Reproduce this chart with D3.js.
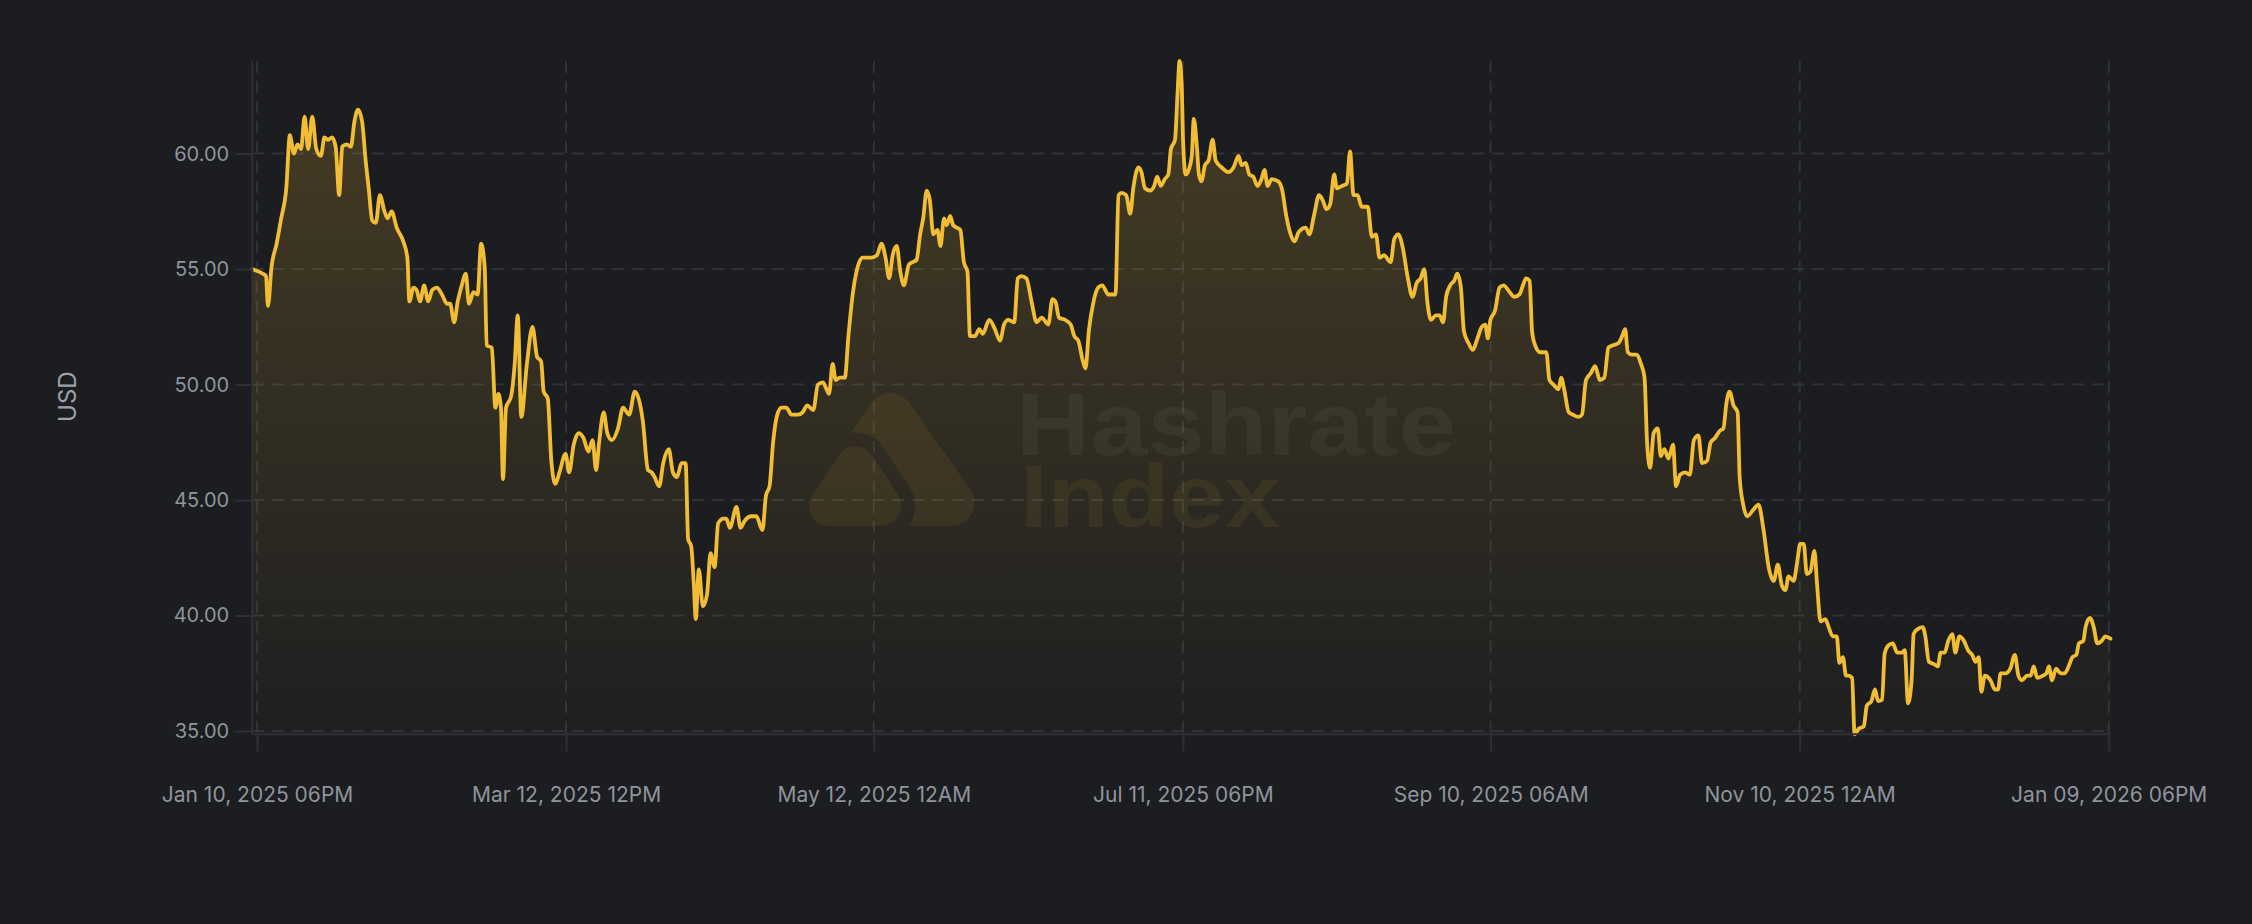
<!DOCTYPE html>
<html>
<head>
<meta charset="utf-8">
<script src="https://cdn.jsdelivr.net/npm/d3@7"></script>
<style>
  html, body { margin: 0; padding: 0; background: #1c1d20; }
  svg { display: block; }
</style>
</head>
<body>
<svg id="chart" width="2252" height="924"></svg>
<script>
// ---------------- DATA ----------------
const startDate = "2025-01-10T00:00:00Z";   // day offsets are counted from here
const dayOffset = [
-0.2,1.9,2.5,2.9,3.6,4.6,5.5,6.5,7.2,8.0,8.7,9.4,10.1,10.8,11.6,12.4,13.3,14.0,14.7,15.5,16.2,16.9,17.5,18.4,19.2,19.9,20.6,21.4,22.1,22.7,
23.4,24.1,24.9,25.8,26.4,27.2,28.2,29.5,30.3,30.7,31.5,32.1,32.8,33.6,34.4,35.2,36.1,37.1,38.1,38.7,39.5,40.2,41.0,41.8,42.4,43.3,44.1,44.8,45.5,45.9,
46.9,47.6,48.2,48.7,49.1,49.7,50.7,51.4,52.0,52.7,53.8,54.9,55.8,56.6,57.1,57.9,58.6,59.4,60.2,61.4,62.1,63.0,64.0,64.9,65.9,66.7,67.4,68.0,68.9,69.6,
70.5,71.7,72.7,73.9,75.0,76.0,76.6,77.6,78.3,78.9,79.8,80.6,81.7,82.5,83.3,84.2,85.0,85.5,86.1,86.6,87.0,87.6,88.4,89.2,89.9,90.7,91.4,92.4,93.0,93.7,
95.0,95.8,96.6,97.9,98.9,100.1,100.8,101.5,102.2,102.9,103.8,104.8,105.8,107.1,108.0,108.9,110.1,111.0,112.0,112.7,113.2,113.9,114.5,115.3,116.3,117.0,117.9,118.6,119.8,121.5,
122.6,123.5,124.3,125.0,125.7,126.5,127.2,127.9,128.9,129.6,130.4,131.1,131.7,132.4,133.0,133.7,134.5,135.1,135.8,136.3,137.0,137.6,138.3,139.0,139.7,140.4,140.9,141.9,142.7,143.4,
144.7,145.8,146.8,147.6,148.4,149.6,150.3,151.0,152.0,153.0,154.0,155.0,156.3,157.1,157.7,158.4,159.6,160.7,161.4,162.2,163.0,163.6,164.3,165.1,166.1,166.9,168.1,169.5,170.1,170.7,
171.6,172.4,173.0,174.0,174.6,175.3,176.3,177.1,177.7,178.4,179.2,179.9,180.4,181.2,181.7,182.1,182.5,182.8,183.3,183.9,184.5,184.9,185.5,185.9,186.4,187.1,187.8,188.6,189.2,190.4,
191.7,192.7,193.7,194.3,195.1,195.8,196.6,197.4,198.2,198.8,199.4,200.2,201.5,202.3,203.0,203.8,204.7,205.5,206.9,207.6,208.6,209.5,210.2,211.0,211.7,212.5,213.0,214.0,215.0,215.6,
216.3,217.1,217.9,219.1,219.9,220.7,221.4,222.3,223.6,224.3,225.1,226.0,226.9,227.9,228.7,229.5,230.2,230.8,231.5,232.5,233.2,233.9,234.5,235.3,236.1,236.7,237.4,238.0,238.9,239.75,
240.5,241.5,242.2,242.7,243.2,244.1,245.0,245.8,247.0,247.9,248.9,249.6,250.2,250.9,251.4,252.0,253.0,254.2,254.8,255.6,256.6,257.1,257.7,258.6,259.4,260.5,261.2,262.0,262.95,263.8,
264.7,265.6,266.4,267.3,268.4,269.1,269.7,270.2,271.0,271.9,272.8,273.5,274.0,274.6,275.3,276.1,276.7,277.4,278.2,279.1,279.7,280.5,281.5,282.4,283.2,284.1,284.8,285.8,286.5,287.4,
288.3,289.0,289.6,290.2,291.0,291.8,292.2,292.9,293.7,294.95,295.9,296.9,297.9,298.9,299.7,300.5,301.2,301.8,302.8,303.5,304.1,304.8,305.4,306.1,306.9,307.4,308.1,309.05,309.7,310.5,
311.3,311.8,312.5,313.1,313.6,314.3,314.8,315.6,316.6,317.2,318.1,318.8,319.4,320.2,320.7,321.4,322.3,323.15,324.1,324.65,325.3,326.0,326.4,327.1,328.2,328.7,329.4,330.4,331.15,331.7,
332.5,333.2,334.0,334.6,335.4,336.3,337.1,337.9,338.6,339.2,339.7,340.4,341.5,342.4,343.0,343.5,344.5,345.4,346.3,347.0,347.7,348.7,349.4,350.0,350.7,351.8,352.5,353.0,353.6,354.4,
355.3,356.1,357.05,357.6,358.4,358.9,359.75,360.2,361.05,361.8,362.5,363.35,364.1,365.1
];
const price = [
55.0,54.8,54.7,53.4,55.1,56.1,57.2,58.5,60.8,60.0,60.4,60.2,61.6,60.2,61.6,60.2,59.9,60.7,60.6,60.7,60.3,58.2,60.3,60.4,60.3,61.4,61.9,61.4,59.7,58.5,
57.1,57.0,58.2,57.5,57.2,57.5,56.8,56.2,55.5,53.6,54.2,54.1,53.6,54.3,53.6,54.1,54.2,53.9,53.5,53.5,52.7,53.6,54.3,54.8,53.5,54.0,53.9,56.1,55.1,51.7,
51.6,49.0,49.6,49.0,45.9,49.0,49.5,50.9,53.0,48.6,50.9,52.5,51.2,51.0,49.7,49.4,46.7,45.7,46.2,47.0,46.2,47.4,47.9,47.7,47.1,47.6,46.3,47.5,48.8,47.9,
47.6,48.1,49.0,48.7,49.7,49.2,48.4,46.3,46.2,46.0,45.6,46.6,47.2,46.2,46.0,46.6,46.6,43.3,43.0,41.4,39.85,42.0,40.4,40.9,42.7,42.1,44.0,44.2,44.2,43.8,
44.7,43.8,44.1,44.3,44.3,43.7,45.2,45.6,47.5,48.6,49.0,49.0,48.7,48.7,48.8,49.1,48.9,50.0,50.1,49.8,49.6,50.9,50.2,50.3,50.3,52.1,54.0,54.9,55.5,55.5,
55.6,56.1,55.5,54.6,55.6,56.0,54.9,54.3,55.2,55.3,55.4,56.5,57.2,58.4,58.0,56.5,56.7,56.0,57.2,56.9,57.3,56.9,56.8,56.7,55.3,54.9,52.1,52.1,52.4,52.2,
52.8,52.4,51.9,52.6,52.8,52.7,54.6,54.7,54.6,53.6,52.7,52.9,52.6,53.7,53.6,52.9,52.8,52.6,52.1,51.9,51.1,50.7,52.4,53.5,54.2,54.3,53.9,53.9,58.2,58.3,
58.2,57.4,58.5,59.4,59.2,58.5,58.4,58.6,59.0,58.6,58.9,59.1,60.2,60.6,62.6,64.01,63.1,60.5,59.1,59.3,59.9,61.5,60.3,59.1,58.8,59.5,59.7,60.6,59.7,59.4,
59.2,59.4,59.9,59.5,59.6,59.1,59.0,58.6,58.9,59.3,58.6,58.9,58.8,58.4,57.4,56.6,56.2,56.6,56.8,56.5,57.4,58.2,58.0,57.6,57.8,59.1,58.5,58.6,58.7,60.1,
58.2,58.2,57.7,57.7,56.4,56.5,55.5,55.6,55.3,56.3,56.5,55.9,54.7,53.8,54.4,54.6,55.0,53.6,52.8,53.0,53.0,52.7,53.8,54.3,54.5,54.8,54.2,52.3,51.8,51.5,
51.9,52.5,52.6,52.0,52.8,53.2,54.2,54.3,54.0,53.8,53.9,54.3,54.6,54.5,52.3,51.7,51.4,51.4,50.2,50.0,49.8,50.3,49.8,48.8,48.7,48.6,48.7,50.2,50.5,50.8,
50.2,50.3,51.6,51.7,51.8,52.1,52.4,51.4,51.3,51.3,50.9,50.3,47.5,46.4,47.9,48.1,46.9,47.2,46.8,47.4,45.6,46.1,46.2,46.1,47.6,47.8,46.6,46.7,47.5,47.7,
48.0,48.1,49.2,49.7,49.1,48.8,46.0,44.8,44.3,44.6,44.8,43.7,42.1,41.5,42.2,41.3,41.1,41.7,41.5,42.3,43.1,43.1,41.8,41.9,42.8,41.4,39.75,39.85,39.5,39.1,
39.1,37.95,38.2,37.4,37.4,37.3,34.86,35.1,35.2,36.1,36.3,36.8,36.3,36.35,38.35,38.7,38.8,38.4,38.4,38.5,36.2,37.2,39.2,39.4,39.5,39.1,38.0,37.9,37.8,38.4,
38.4,38.9,39.2,38.4,39.1,38.9,38.5,38.3,38.0,38.2,36.7,37.4,37.2,36.8,36.8,37.5,37.5,37.7,38.3,37.4,37.2,37.4,37.4,37.8,37.3,37.4,37.5,37.8,37.2,37.7,
37.5,37.5,37.9,38.2,38.3,38.8,38.9,39.5,39.9,39.5,38.8,38.9,39.1,39.0
];
const yTickValues = [35, 40, 45, 50, 55, 60];
const xTickDates = ["2025-01-10T18:00:00Z","2025-03-12T12:00:00Z","2025-05-12T00:00:00Z","2025-07-11T18:00:00Z",
                    "2025-09-10T06:00:00Z","2025-11-10T00:00:00Z","2026-01-09T18:00:00Z"];
const xTickLabels = ["Jan 10, 2025 06PM","Mar 12, 2025 12PM","May 12, 2025 12AM","Jul 11, 2025 06PM",
                     "Sep 10, 2025 06AM","Nov 10, 2025 12AM","Jan 09, 2026 06PM"];
const yAxisTitle = "USD";
const watermarkLines = ["Hashrate", "Index"];

// ---------------- SETUP ----------------
const W = 2252, H = 924;
const margin = {left: 252.2, top: 61, right: 141.5, bottom: 189.7};
const iw = W - margin.left - margin.right;
const ih = H - margin.top - margin.bottom;

const t0 = new Date(startDate).getTime();
const data = dayOffset.map((d, i) => ({date: new Date(t0 + d * 864e5), value: price[i]}));
const tickDates = xTickDates.map(s => new Date(s));

const svg = d3.select("#chart");
svg.append("rect").attr("width", W).attr("height", H).attr("fill", "#1c1d20");

const x = d3.scaleUtc().domain(d3.extent(data, d => d.date)).range([0, iw]);
const y = d3.scaleLinear().domain(d3.extent(data, d => d.value)).range([ih, 0]);

const defs = svg.append("defs");
const grad = defs.append("linearGradient").attr("id", "areaGrad")
  .attr("gradientUnits", "userSpaceOnUse").attr("x1", 0).attr("x2", 0).attr("y1", 0).attr("y2", ih);
grad.append("stop").attr("offset", "0%").attr("stop-color", "#f2bd33").attr("stop-opacity", 0.2);
grad.append("stop").attr("offset", "100%").attr("stop-color", "#f2bd33").attr("stop-opacity", 0.012);

const g = svg.append("g").attr("transform", `translate(${margin.left},${margin.top})`);

const gridColor = "#303238";
// horizontal grid
g.append("g").selectAll("line").data(yTickValues).join("line")
  .attr("x1", 0).attr("x2", iw)
  .attr("y1", d => y(d)).attr("y2", d => y(d))
  .attr("stroke", gridColor).attr("stroke-width", 2).attr("stroke-dasharray", "12,8");
// vertical grid
g.append("g").selectAll("line").data(tickDates).join("line")
  .attr("x1", d => x(d)).attr("x2", d => x(d))
  .attr("y1", 0).attr("y2", ih)
  .attr("stroke", gridColor).attr("stroke-width", 2).attr("stroke-dasharray", "12,8");

// area
const curve = d3.curveMonotoneX;
const area = d3.area().x(d => x(d.date)).y0(ih).y1(d => y(d.value)).curve(curve);
g.append("path").datum(data).attr("d", area).attr("fill", "url(#areaGrad)");

// watermark (decorative logo + text)
const wm = svg.append("g").attr("class", "watermark");
function roundedTri(pts, r) {
  const A = pts[0], B = pts[1], C = pts[2];
  const a = Math.hypot(B[0]-C[0], B[1]-C[1]);
  const b = Math.hypot(A[0]-C[0], A[1]-C[1]);
  const c = Math.hypot(A[0]-B[0], A[1]-B[1]);
  const P = a + b + c;
  const ix = (a*A[0] + b*B[0] + c*C[0]) / P, iy = (a*A[1] + b*B[1] + c*C[1]) / P;
  const area2 = Math.abs((B[0]-A[0])*(C[1]-A[1]) - (C[0]-A[0])*(B[1]-A[1]));
  const inr = area2 / P;
  const k = 1 - r / inr;
  return pts.map(p => [ix + (p[0]-ix)*k, iy + (p[1]-iy)*k]);
}
const bigTri = [[890.4, 376], [996, 526], [785, 526]];
const smallTri = [[855.6, 430], [792, 526], [918, 526]];
const bigR = 23, smallR = 20, gap = 14;
const lineGen = d3.line();
const mask = defs.append("mask").attr("id", "logoMask").attr("maskUnits", "userSpaceOnUse")
  .attr("x", 0).attr("y", 0).attr("width", W).attr("height", H);
mask.append("rect").attr("width", W).attr("height", H).attr("fill", "white");
mask.append("path").attr("d", lineGen(roundedTri(smallTri, smallR)) + "Z")
  .attr("fill", "black").attr("stroke", "black").attr("stroke-width", 2*(smallR+gap)).attr("stroke-linejoin", "round");
const bigG = wm.append("g").attr("opacity", 0.075).attr("mask", "url(#logoMask)");
bigG.append("path").attr("d", lineGen(roundedTri(bigTri, bigR)) + "Z")
  .attr("fill", "#f2bd33").attr("stroke", "#f2bd33").attr("stroke-width", 2*bigR).attr("stroke-linejoin", "round");
const smG = wm.append("g").attr("opacity", 0.075);
smG.append("path").attr("d", lineGen(roundedTri(smallTri, smallR)) + "Z")
  .attr("fill", "#f2bd33").attr("stroke", "#f2bd33").attr("stroke-width", 2*smallR).attr("stroke-linejoin", "round");
wm.append("text").attr("x", 1016).attr("y", 455)
  .attr("font-family", "'Liberation Sans', Arial, sans-serif").attr("font-weight", 700).attr("font-size", 89)
  .attr("textLength", 440).attr("lengthAdjust", "spacingAndGlyphs")
  .attr("fill", "#ffffff").attr("fill-opacity", 0.045).text(watermarkLines[0]);
wm.append("text").attr("x", 1020).attr("y", 527)
  .attr("font-family", "'Liberation Sans', Arial, sans-serif").attr("font-weight", 700).attr("font-size", 89)
  .attr("textLength", 260).attr("lengthAdjust", "spacingAndGlyphs")
  .attr("fill", "#f2bd33").attr("fill-opacity", 0.07).text(watermarkLines[1]);

// line
const line = d3.line().x(d => x(d.date)).y(d => y(d.value)).curve(curve);
g.append("path").datum(data).attr("d", line)
  .attr("fill", "none").attr("stroke", "#f1bd35").attr("stroke-width", 3.8)
  .attr("stroke-linejoin", "round").attr("stroke-linecap", "round");

// axes
const labelColor = "#8f949d";
const yAxis = d3.axisLeft(y).tickValues(yTickValues).tickFormat(d3.format(".2f")).tickSize(17).tickPadding(6);
const yg = g.append("g").call(yAxis);
yg.select(".domain").attr("stroke", "#2e3036").attr("stroke-width", 2).attr("d", `M0,0V${ih}`);
yg.selectAll(".tick line").attr("stroke", "#2e3036").attr("stroke-width", 2);
yg.selectAll(".tick text").attr("fill", labelColor).attr("font-family", "Inter, sans-serif").attr("font-size", 20);

const xAxis = d3.axisBottom(x).tickValues(tickDates)
  .tickFormat((d, i) => xTickLabels[i]).tickSize(17).tickPadding(36);
const xg = g.append("g").attr("transform", `translate(0,${ih})`).call(xAxis);
xg.select(".domain").attr("stroke", "#2e3036").attr("stroke-width", 2).attr("d", `M0,0H${iw}`);
xg.selectAll(".tick line").attr("stroke", "#2e3036").attr("stroke-width", 2);
xg.selectAll(".tick text").attr("fill", labelColor).attr("font-family", "Inter, sans-serif").attr("font-size", 21);

// y axis title
svg.append("text").attr("transform", `translate(67.5,396.7) rotate(-90)`)
  .attr("text-anchor", "middle").attr("dominant-baseline", "central")
  .attr("font-family", "Inter, sans-serif").attr("font-size", 24).attr("fill", "#9ba0a9").text(yAxisTitle);
</script>
</body>
</html>
